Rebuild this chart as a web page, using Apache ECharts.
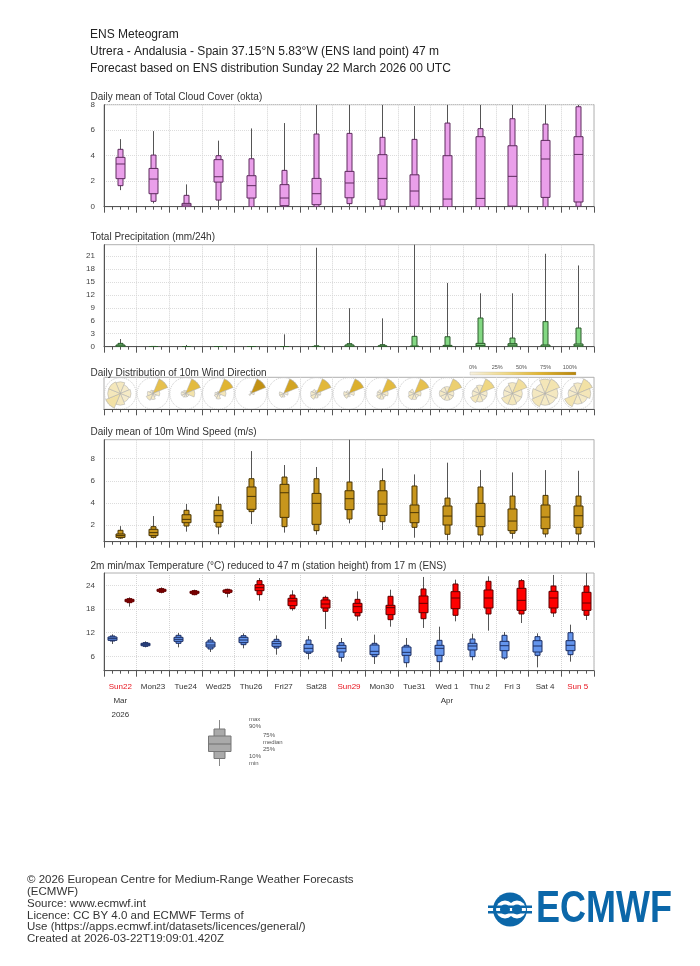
<!DOCTYPE html>
<html><head><meta charset="utf-8">
<script src="https://cdn.jsdelivr.net/npm/echarts@6/dist/echarts.min.js"></script>
<style>html,body{margin:0;padding:0;background:#fff}#c{width:700px;height:966px}</style>
</head><body><div id="c"></div>
<script>
// ---------- data ----------
const days = ['Sun22','Mon23','Tue24','Wed25','Thu26','Fri27','Sat28','Sun29','Mon30','Tue31','Wed 1','Thu 2','Fri 3','Sat 4','Sun 5'];
const sundayIdx = [0, 7, 14];
const monthLabels = ['Mar','','','','','','','','','','Apr','','','',''];
const yearLabels = ['2026','','','','','','','','','','','','','',''];
// each row: [min, p10, p25, median, p75, p90, max]
const cloud = [
  [1.3,1.65,2.2,3.35,3.87,4.5,5.3],[0.26,0.42,1.02,2.17,3.0,4.05,5.93],[0,0,0,0.13,0.26,0.89,1.75],
  [0,0.52,1.93,2.35,3.69,4.0,5.18],[0,0,0.68,1.65,2.43,3.76,6.14],[0,0,0.08,0.68,1.73,2.85,6.56],
  [0,0,0.16,1.02,2.22,5.7,8],[0,0.24,0.7,1.86,2.77,5.75,8],[0,0.05,0.58,2.22,4.08,5.44,8],
  [0,0,0.03,1.23,2.5,5.28,7.9],[0,0,0,0.6,4.0,6.56,8],[0,0,0,0.65,5.49,6.12,8],
  [0,0,0.05,2.38,4.78,6.9,8],[0,0,0.73,3.74,5.2,6.48,8],[0,0.03,0.37,4.1,5.49,7.84,8]
];
const precip = [
  [0,0,0,0.15,0.39,0.77,1.78],[0,0,0,0,0.03,0.06,0.15],[0,0,0,0,0,0,0.4],
  [0,0,0,0,0,0,0],[0,0,0,0,0,0,0],[0,0,0,0,0,0,2.86],
  [0,0,0,0,0.05,0.2,22.9],[0,0,0,0.1,0.4,0.7,8.9],[0,0,0,0.05,0.2,0.46,6.56],
  [0,0,0,0,0.15,2.4,25],[0,0,0,0.05,0.3,2.3,14.75],[0,0,0,0.3,0.77,6.64,12.35],
  [0,0,0,0.35,0.7,2.0,12.35],[0,0,0,0.1,0.39,5.8,21.5],[0,0,0,0.2,0.62,4.32,18.8]
];
const windSpeed = [
  [0.76,0.82,0.88,1.04,1.19,1.52,1.9],[0.79,0.88,1.04,1.31,1.61,1.85,2.81],[1.4,1.91,2.21,2.51,2.93,3.33,3.9],
  [1.16,1.82,2.24,2.84,3.33,3.87,4.59],[2.09,3.21,3.42,4.59,5.44,6.19,8.69],[1.31,1.85,2.69,4.92,5.68,6.34,7.43],
  [1.13,1.49,2.06,3.96,4.86,6.19,7.25],[2.15,2.54,3.39,4.38,5.1,5.89,10.2],[1.55,2.3,2.87,3.9,5.1,6.01,7.13],
  [0.85,1.79,2.21,3.12,3.81,5.53,6.58],[0.61,1.16,2.0,2.81,3.72,4.44,7.64],[0.45,1.1,1.85,2.78,3.96,5.44,6.97],
  [0.76,1.25,1.49,2.36,3.45,4.62,6.76],[0.88,1.19,1.67,2.72,3.81,4.68,6.97],[0.45,1.19,1.79,2.84,3.72,4.62,6.91]
];
const tempMin = [
  [9.13,9.89,10.06,10.48,10.9,11.16,11.58],[8.28,8.54,8.7,9.04,9.3,9.47,9.8],[8.28,9.3,9.8,10.31,10.82,11.33,11.92],
  [7.1,7.86,8.37,8.87,9.63,10.14,10.9],[8.03,8.96,9.47,10.14,10.82,11.24,11.83],[6.42,8.11,8.54,9.21,9.8,10.31,11.33],
  [5.24,6.76,7.1,8.03,9.04,10.14,11.16],[4.65,5.75,7.1,8.03,8.79,9.47,10.65],[4.06,5.92,6.42,7.27,8.87,9.3,11.5],
  [3.21,4.39,6.25,7.01,8.37,8.79,10.65],[2.0,4.65,6.25,8.03,8.79,10.06,13.52],[4.99,5.92,7.61,8.62,9.3,10.4,11.75],
  [5.15,5.58,7.44,8.7,9.8,11.33,12.17],[3.21,6.25,7.1,8.62,9.97,10.99,11.83],[4.65,6.42,7.44,8.79,9.97,12.0,14.03]
];
const tempMax = [
  [18.6,19.61,19.86,20.2,20.45,20.62,20.96],[21.98,22.23,22.48,22.74,22.99,23.16,23.5],[21.47,21.64,21.98,22.23,22.48,22.65,22.9],
  [20.96,21.98,22.23,22.57,22.82,22.99,23.16],[20.12,21.64,22.65,23.41,24.17,25.19,25.86],[17.58,18.09,18.85,20.03,20.71,21.55,22.74],
  [12.93,17.41,18.26,19.27,20.29,20.96,21.38],[15.05,16.23,17.07,18.6,19.44,20.45,22.48],[13.52,15.3,16.57,18.34,18.93,21.22,22.9],
  [13.19,15.55,17.07,19.44,21.3,23.08,26.12],[14.88,16.4,18.09,20.79,22.4,24.34,25.44],[12.51,16.74,18.26,20.79,22.82,25.02,26.29],
  [14.45,16.74,17.66,20.2,23.24,25.19,25.61],[15.98,16.99,18.26,20.79,22.48,23.84,26.63],[15.21,16.4,17.66,19.52,22.23,23.84,28.0]
];
const windSectors = ['N','NE','E','SE','S','SW','W','NW'];
// percent of members per sector, per day
const windDirFreq = [
  [12,8,10,8,12,22,14,14],[2,55,10,3,8,12,7,3],[2,60,20,3,3,4,5,3],[1,65,15,2,8,5,3,1],
  [2,92,4,0,0,2,0,0],[0,78,6,0,4,6,6,0],[2,62,5,3,5,10,8,5],[0,70,8,0,3,8,8,3],
  [0,60,10,5,8,8,5,4],[0,55,10,5,8,10,7,5],[8,42,8,8,8,8,10,8],[10,35,8,8,10,14,8,7],
  [12,25,10,10,13,14,8,8],[15,18,12,10,10,15,12,8],[10,22,15,10,10,18,8,7]
];
const colorbarTicks = ['0%','25%','50%','75%','100%'];
const cloudTicks = [0,2,4,6,8];
const precipTicks = [0,3,6,9,12,15,18,21];
const windTicks = [2,4,6,8];
const tempTicks = [6,12,18,24];

// ---------- layout / style ----------
const GL = 104, GR = 106;
const grids = [
  {left:GL, right:GR, top:104.7, height:102},
  {left:GL, right:GR, top:244.7, height:102},
  {left:GL, right:GR, top:377.3, height:32},
  {left:GL, right:GR, top:439.7, height:102},
  {left:GL, right:GR, top:573, height:97.7}
];
const titles = [
  ['Daily mean of Total Cloud Cover (okta)', 97],
  ['Total Precipitation (mm/24h)', 237],
  ['Daily Distribution of 10m Wind Direction', 373],
  ['Daily mean of 10m Wind Speed (m/s)', 432],
  ['2m min/max Temperature (\u00B0C) reduced to 47 m (station height) from 17 m (ENS)', 566]
];
const ramp = ['#f7f1e0','#f0d987','#e0b32e','#b8860b'];
function hex2rgb(h){return [parseInt(h.slice(1,3),16),parseInt(h.slice(3,5),16),parseInt(h.slice(5,7),16)];}
function rampColor(t){
  t = Math.max(0, Math.min(1, t));
  const s = t*(ramp.length-1), i = Math.min(ramp.length-2, Math.floor(s)), f = s-i;
  const a = hex2rgb(ramp[i]), b = hex2rgb(ramp[i+1]);
  return 'rgb(' + a.map((v,k)=>Math.round(v+(b[k]-v)*f)).join(',') + ')';
}

function xAxisFor(gi){
  return {
    type:'value', gridIndex:gi, min:0, max:360, interval:24,
    axisLine:{show:true, onZero:false, lineStyle:{color:'#555', width:1}},
    axisTick:{show:true, length:6, lineStyle:{color:'#555'}},
    minorTick:{show:true, splitNumber:4, length:3, lineStyle:{color:'#555'}},
    axisLabel:{show:false},
    splitLine:{show:true, lineStyle:{color:'#d4d4d4', type:'dotted'}}
  };
}
function yAxisFor(gi, min, max, ticks){
  const show = !!ticks;
  return {
    type:'value', gridIndex:gi, min, max,
    axisLine:{show, onZero:false, lineStyle:{color:'#555'}},
    axisTick:{show:false, customValues: ticks || undefined},
    axisLabel:{show, fontSize:8, color:'#444', margin:9, fontFamily:'Liberation Sans', customValues: ticks || undefined},
    splitLine:{show, lineStyle:{color:'#dcdcdc', type:'dotted'}}
  };
}

function boxRenderer(fill, stroke, wide, narrow){
  return function(params, api){
    const x = api.value(0);
    const cx = Math.round(api.coord([x, 0])[0]) + 0.5;
    const Y = v => api.coord([x, v])[1];
    const mn=api.value(1), p10=api.value(2), p25=api.value(3), md=api.value(4), p75=api.value(5), p90=api.value(6), mx=api.value(7);
    return {type:'group', children:[
      {type:'line', shape:{x1:cx, y1:Y(mn), x2:cx, y2:Y(mx)}, style:{stroke:'#555', lineWidth:1}},
      {type:'rect', shape:{x:cx-narrow/2, y:Y(p90), width:narrow, height:Y(p10)-Y(p90)}, style:{fill, stroke, lineWidth:1}},
      {type:'rect', shape:{x:cx-wide/2, y:Y(p75), width:wide, height:Y(p25)-Y(p75)}, style:{fill, stroke, lineWidth:1}},
      {type:'line', shape:{x1:cx-wide/2, y1:Y(md), x2:cx+wide/2, y2:Y(md)}, style:{stroke, lineWidth:1}}
    ]};
  };
}
function boxSeries(rows, hourOffset, gi, fill, stroke){
  return {
    type:'custom', xAxisIndex:gi, yAxisIndex:gi, clip:true, silent:true,
    renderItem: boxRenderer(fill, stroke, 9, 5),
    encode:{x:0, y:4},
    data: rows.map((r,i)=>[i*24+hourOffset].concat(r))
  };
}

const xAxes = grids.map((g,i)=>xAxisFor(i));
xAxes.push({
  type:'category', gridIndex:4, position:'bottom', data:days, boundaryGap:true,
  axisLine:{show:false}, axisTick:{show:false}, splitLine:{show:false},
  axisLabel:{show:true, interval:0, margin:9,
    formatter:(v, idx)=>{
      const k = sundayIdx.includes(idx) ? 's' : 'd';
      let s = '{'+k+'|'+v+'}';
      if (monthLabels[idx]) s += '\n{m|'+monthLabels[idx]+'}';
      if (yearLabels[idx]) s += '\n{m|'+yearLabels[idx]+'}';
      return s;
    },
    rich:{
      d:{color:'#333', fontSize:8, lineHeight:14, fontFamily:'Liberation Sans'},
      s:{color:'#e8141e', fontSize:8, lineHeight:14, fontFamily:'Liberation Sans'},
      m:{color:'#333', fontSize:8, lineHeight:14, fontFamily:'Liberation Sans'}
    }
  }
});
const yAxes = [
  yAxisFor(0, 0, 8, cloudTicks),
  yAxisFor(1, 0, 23.6, precipTicks),
  yAxisFor(2, 0, 1, null),
  yAxisFor(3, 0.49, 9.72, windTicks),
  yAxisFor(4, 2.36, 27.13, tempTicks)
];

const series = [
  boxSeries(cloud, 12, 0, '#ea9fea', '#5e2c5e'),
  boxSeries(precip, 12, 1, '#83d883', '#2c5a2c'),
  boxSeries(windSpeed, 12, 3, '#c8961c', '#4a3606'),
  boxSeries(tempMin, 6, 4, '#6495ed', '#1d2f63'),
  boxSeries(tempMax, 18, 4, '#ff0000', '#5e0000')
];

// wind roses: one polar system per day; petal area proportional to frequency
const ROSE_R = 15.8, ROSE_CY = 393.5;
const polars = [], angleAxes = [], radiusAxes = [];
windDirFreq.forEach((freq, i)=>{
  const cx = GL + (i+0.5)*(700-GL-GR)/15;
  polars.push({center:[cx, ROSE_CY], radius:ROSE_R});
  angleAxes.push({polarIndex:i, type:'category', data:windSectors, startAngle:112.5, clockwise:true, boundaryGap:true,
    axisLine:{show:true, lineStyle:{color:'#c8c8c8', type:'dotted', width:1}}, axisTick:{show:false}, axisLabel:{show:false}, splitLine:{show:false}});
  radiusAxes.push({polarIndex:i, type:'value', min:0, max:Math.sqrt(Math.max.apply(null, freq)),
    axisLine:{show:false}, axisTick:{show:false}, axisLabel:{show:false}, splitLine:{show:false}});
  series.push({
    type:'bar', coordinateSystem:'polar', polarIndex:i, barCategoryGap:'0%', silent:true,
    itemStyle:{borderColor:'#a8a8a8', borderWidth:0.5},
    data: freq.map(f=>({value:Math.sqrt(f), itemStyle:{color:rampColor(f/100)}}))
  });
});

// ---------- graphics (text, keys, logo) ----------
const graphic = [];
const header = ['ENS Meteogram','Utrera - Andalusia - Spain 37.15\u00B0N 5.83\u00B0W (ENS land point) 47 m','Forecast based on ENS distribution Sunday 22 March 2026 00 UTC'];
header.forEach((t,i)=>graphic.push({type:'text', x:90, y:34.5+i*17.3, style:{text:t, fill:'#222', font:'12px "Liberation Sans"', verticalAlign:'middle'}}));
titles.forEach(([t,y])=>graphic.push({type:'text', x:90.5, y:y, style:{text:t, fill:'#333', font:'10px "Liberation Sans"', verticalAlign:'middle'}}));
// colorbar
graphic.push({type:'rect', shape:{x:470, y:372, width:106, height:3},
  style:{fill:new echarts.graphic.LinearGradient(0,0,1,0, ramp.map((c,k)=>({offset:k/(ramp.length-1), color:c}))), stroke:'#aaa', lineWidth:0.3}});
colorbarTicks.forEach((t,k)=>graphic.push({type:'text', x:473+k*24.2, y:367.5, style:{text:t, fill:'#555', font:'5.5px "Liberation Sans"', align:'center', verticalAlign:'middle'}}));
// boxplot key
graphic.push({type:'line', shape:{x1:219.5, y1:720, x2:219.5, y2:766}, style:{stroke:'#888', lineWidth:1}});
graphic.push({type:'rect', shape:{x:214, y:729, width:11, height:29.5}, style:{fill:'#aaa', stroke:'#777', lineWidth:1}});
graphic.push({type:'rect', shape:{x:208.5, y:736, width:22.5, height:15.5}, style:{fill:'#aaa', stroke:'#777', lineWidth:1}});
graphic.push({type:'line', shape:{x1:208.5, y1:744, x2:231, y2:744}, style:{stroke:'#777', lineWidth:1.2}});
[['max',249,719.5],['90%',249,726.7],['75%',263,735],['median',263,742.2],['25%',263,749],['10%',249,756.8],['min',249,763.5]]
  .forEach(([t,x,y])=>graphic.push({type:'text', x, y, style:{text:t, fill:'#555', font:'6px "Liberation Sans"', verticalAlign:'middle'}}));
// footer
const footer = ['\u00A9 2026 European Centre for Medium-Range Weather Forecasts','(ECMWF)','Source: www.ecmwf.int','Licence: CC BY 4.0 and ECMWF Terms of','Use (https://apps.ecmwf.int/datasets/licences/general/)','Created at 2026-03-22T19:09:01.420Z'];
footer.forEach((t,i)=>graphic.push({type:'text', x:27, y:880+i*11.8, style:{text:t, fill:'#333', font:'11.5px "Liberation Sans"', verticalAlign:'middle'}}));
// ECMWF logo
const LB = '#0b67a9';
graphic.push({type:'circle', shape:{cx:510, cy:909.5, r:17}, style:{fill:LB}});
graphic.push({type:'circle', shape:{cx:505, cy:909.5, r:9}, style:{fill:'#fff'}});
graphic.push({type:'circle', shape:{cx:517, cy:909.5, r:9}, style:{fill:'#fff'}});
graphic.push({type:'circle', shape:{cx:505, cy:909.5, r:5}, style:{fill:LB}});
graphic.push({type:'circle', shape:{cx:517, cy:909.5, r:5}, style:{fill:LB}});
graphic.push({type:'rect', shape:{x:488, y:905.5, width:44, height:2.5}, style:{fill:LB}});
graphic.push({type:'rect', shape:{x:488, y:911, width:44, height:2.5}, style:{fill:LB}});
graphic.push({type:'text', x:536, y:910, scaleX:0.8, style:{text:'ECMWF', fill:LB, font:'bold 45px "Liberation Sans"', verticalAlign:'middle'}});

const chart = echarts.init(document.getElementById('c'), null, {renderer:'canvas'});
chart.setOption({
  animation:false,
  backgroundColor:'#fff',
  grid: grids.map(g=>Object.assign({show:true, borderColor:'#b0b0b0', borderWidth:1, backgroundColor:'transparent', containLabel:false}, g)),
  xAxis: xAxes, yAxis: yAxes,
  polar: polars, angleAxis: angleAxes, radiusAxis: radiusAxes,
  series, graphic
});
// align rose centres to the time axis of the wind-direction panel
const newPolars = windDirFreq.map((f,i)=>({center:[chart.convertToPixel({xAxisIndex:2}, i*24+12), ROSE_CY], radius:ROSE_R}));
chart.setOption({polar:newPolars});
</script></body></html>
